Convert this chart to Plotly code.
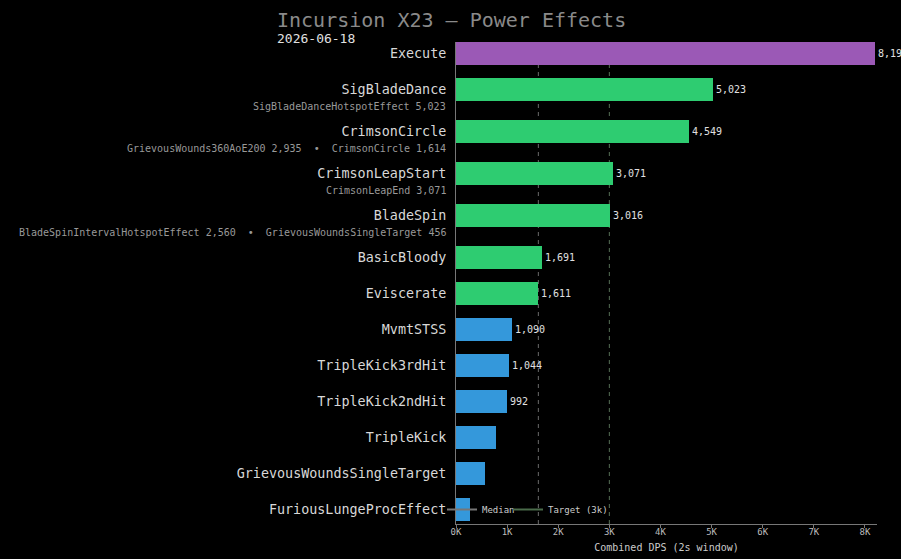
import plotly.graph_objects as go

title = "Incursion X23 — Power Effects"
date_label = "2026-06-18"
x_title = "Combined DPS (2s window)"

categories = ["Execute", "SigBladeDance", "CrimsonCircle", "CrimsonLeapStart", "BladeSpin",
              "BasicBloody", "Eviscerate", "MvmtSTSS", "TripleKick3rdHit", "TripleKick2ndHit",
              "TripleKick", "GrievousWoundsSingleTarget", "FuriousLungeProcEffect"]
values = [8195, 5023, 4549, 3071, 3016, 1691, 1611, 1090, 1044, 992, 782, 567, 274]
tiers = ["top", "high", "high", "high", "high", "high", "high",
         "low", "low", "low", "low", "low", "low"]
components = [
    [],
    [("SigBladeDanceHotspotEffect", 5023)],
    [("GrievousWounds360AoE200", 2935), ("CrimsonCircle", 1614)],
    [("CrimsonLeapEnd", 3071)],
    [("BladeSpinIntervalHotspotEffect", 2560), ("GrievousWoundsSingleTarget", 456)],
    [], [], [], [], [], [], [], [],
]
median_value = 1611
target_value = 3000
x_tickvals = [0, 1000, 2000, 3000, 4000, 5000, 6000, 7000, 8000]
x_ticktext = ["0K", "1K", "2K", "3K", "4K", "5K", "6K", "7K", "8K"]

tier_colors = {"top": "#9b59b6", "high": "#2ecc71", "low": "#3498db"}
FONT = "DejaVu Sans Mono"

# row positions: rows with a sub-label get a little extra space below
positions = []
pos = 0.0
for comp in components:
    positions.append(pos)
    pos += 1.0 + (1.0 / 6.0 if comp else 0.0)

labels = [f"{v:,}" if v >= 900 else "" for v in values]
colors = [tier_colors[t] for t in tiers]

fig = go.Figure()
fig.add_trace(go.Bar(
    x=values, y=positions, orientation="h", width=0.64,
    marker=dict(color=colors, line=dict(width=0)),
    text=labels, textposition="outside", cliponaxis=False, constraintext="none",
    textfont=dict(family=FONT, size=10, color="#e0e0e0"),
    showlegend=False, hoverinfo="skip",
))

y_top = -0.32
y_bot = positions[-1] + 0.403

fig.add_shape(type="line", x0=median_value, x1=median_value, y0=0, y1=1, xref="x", yref="paper",
              line=dict(color="#6a6a6a", width=1, dash="4px,4px"), layer="below")
fig.add_shape(type="line", x0=target_value, x1=target_value, y0=0, y1=1, xref="x", yref="paper",
              line=dict(color="#566e56", width=1, dash="4px,4px"), layer="below")

fig.add_trace(go.Scatter(x=[None], y=[None], mode="lines", name="Median",
                         line=dict(color="#777777", width=2), legend="legend"))
fig.add_trace(go.Scatter(x=[None], y=[None], mode="lines", name="Target (3k)",
                         line=dict(color="#4a6b4a", width=2), legend="legend2"))

annotations = []
for p, comp in zip(positions, components):
    if comp:
        txt = "\u00a0\u00a0•\u00a0\u00a0".join(f"{n} {v:,}" for n, v in comp)
        annotations.append(dict(
            x=0, xref="paper", xanchor="right", xshift=-8,
            y=p + 0.472, yref="y", yanchor="middle",
            text=txt, showarrow=False,
            font=dict(family=FONT, size=10, color="#999999"),
        ))
annotations.append(dict(
    x=(277 - 456) / 421, xref="paper", xanchor="left", xshift=-2,
    y=1, yref="paper", yanchor="middle", yshift=4,
    text=date_label, showarrow=False,
    font=dict(family=FONT, size=13, color="#e0e0e0"),
))

legend_y = (y_bot - positions[-1]) / (y_bot - y_top)
legend_common = dict(orientation="h", xanchor="left", y=legend_y, yanchor="middle", yref="paper",
                     bgcolor="rgba(0,0,0,0)", font=dict(family=FONT, size=9, color="#cccccc"),
                     itemwidth=30)

fig.update_layout(
    width=901, height=559,
    margin=dict(l=456, r=24, t=42, b=35, autoexpand=False),
    paper_bgcolor="#000000", plot_bgcolor="#000000",
    title=dict(text=title, x=277 / 901, xanchor="left", xref="container",
               y=1 - 20 / 559, yanchor="middle", yref="container",
               font=dict(family=FONT, size=20, color="#8a8a8a")),
    bargap=0,
    annotations=annotations,
    showlegend=True,
    legend=dict(x=(442 - 456) / 421, **legend_common),
    legend2=dict(x=(508 - 456) / 421, **legend_common),
    xaxis=dict(range=[0, 8236], tickvals=x_tickvals, ticktext=x_ticktext, automargin=False,
               showgrid=False, zeroline=False, showline=True, linecolor="#777777", linewidth=1,
               ticks="outside", ticklen=3, tickcolor="#777777", ticklabelstandoff=-4,
               tickfont=dict(family=FONT, size=9, color="#bbbbbb"),
               title=dict(text=x_title, font=dict(family=FONT, size=10, color="#cccccc"), standoff=8),
               fixedrange=True),
    yaxis=dict(range=[y_bot, y_top], tickvals=positions, ticktext=categories, automargin=False,
               showgrid=False, zeroline=False, showline=True, linecolor="#777777", linewidth=1,
               ticks="", ticklabelstandoff=6,
               tickfont=dict(family=FONT, size=13.4, color="#d8d8d8"),
               fixedrange=True),
)

fig.write_html("out.html")
